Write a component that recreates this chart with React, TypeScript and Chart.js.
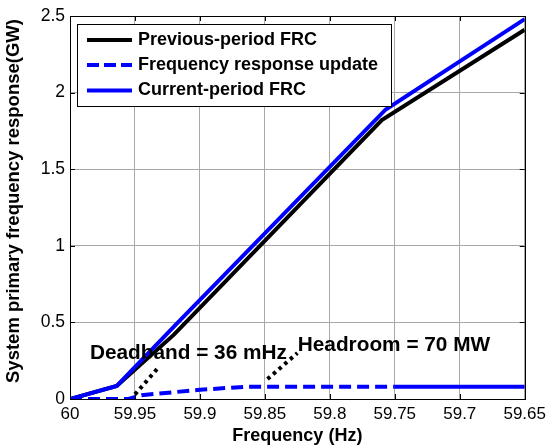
import React, { useEffect, useRef } from "react";
import { Chart, registerables } from "chart.js";
Chart.register(...registerables);

// ---- data ----
const prevFreq = [60, 59.964, 59.92, 59.76, 59.65];
const prevFRC = [0, 0.085, 0.42, 1.82, 2.41];
const currFreq = [60, 59.964, 59.918, 59.757, 59.65];
const currFRC = [0, 0.085, 0.49, 1.89, 2.48];
const updFreq = [60, 59.955, 59.945, 59.9, 59.865, 59.75, 59.65];
const updVals = [0, 0, 0.025, 0.06, 0.08, 0.08, 0.08];
const deadbandFreq = [59.95, 59.931];
const deadbandVals = [0.03, 0.215];
const headroomFreq = [59.848, 59.825];
const headroomVals = [0.13, 0.3];
const xTicks = [60, 59.95, 59.9, 59.85, 59.8, 59.75, 59.7, 59.65];
const yTicks = [0, 0.5, 1, 1.5, 2, 2.5];
const legendLabels = ["Previous-period FRC", "Frequency response update", "Current-period FRC"];
const annotationTexts = ["Deadband = 36 mHz", "Headroom = 70 MW"];
const annotationAnchors = [
  { x: 59.9847, y: 0.297 },
  { x: 59.8247, y: 0.349 },
];

const FONT = "'Liberation Sans', Arial, Helvetica, sans-serif";
const BLUE = "#0000ff";

const zip = (xs: number[], ys: number[]) => xs.map((x, i) => ({ x, y: ys[i] }));

const decorPlugin = {
  id: "decor",
  afterDraw(chart: any) {
    const { ctx, chartArea: a, scales } = chart;
    const xs = scales.x;
    const ys = scales.y;
    ctx.save();
    // axes box
    ctx.strokeStyle = "#000";
    ctx.lineWidth = 1;
    ctx.strokeRect(Math.round(a.left) + 0.5, Math.round(a.top) + 0.5, Math.round(a.right - a.left), Math.round(a.bottom - a.top));
    // inward tick marks
    const tl = 5;
    ctx.beginPath();
    xTicks.forEach((v) => {
      const px = Math.round(xs.getPixelForValue(v)) + 0.5;
      ctx.moveTo(px, a.bottom);
      ctx.lineTo(px, a.bottom - tl);
      ctx.moveTo(px, a.top);
      ctx.lineTo(px, a.top + tl);
    });
    yTicks.forEach((v) => {
      const py = Math.round(ys.getPixelForValue(v)) + 0.5;
      ctx.moveTo(a.left, py);
      ctx.lineTo(a.left + tl, py);
      ctx.moveTo(a.right, py);
      ctx.lineTo(a.right - tl, py);
    });
    ctx.stroke();

    // annotation texts
    ctx.fillStyle = "#000";
    ctx.font = `bold 20.8px ${FONT}`;
    ctx.textBaseline = "middle";
    ctx.textAlign = "left";
    annotationTexts.forEach((t, i) => {
      ctx.fillText(t, xs.getPixelForValue(annotationAnchors[i].x), ys.getPixelForValue(annotationAnchors[i].y));
    });

    // y-axis title
    ctx.save();
    ctx.translate(14, 201);
    ctx.rotate(-Math.PI / 2);
    ctx.textAlign = "center";
    ctx.font = `bold 18.5px ${FONT}`;
    ctx.fillText("System primary frequency response(GW)", 0, 0);
    ctx.restore();

    // legend
    const lx = 77.5, ly = 24.5, lw = 314, lh = 82;
    ctx.fillStyle = "#fff";
    ctx.fillRect(lx, ly, lw, lh);
    ctx.strokeStyle = "#000";
    ctx.lineWidth = 1;
    ctx.strokeRect(lx, ly, lw, lh);
    const rows = [40, 65, 90.5];
    const styles = [
      { color: "#000", dash: [] as number[] },
      { color: BLUE, dash: [12, 5] },
      { color: BLUE, dash: [] as number[] },
    ];
    legendLabels.forEach((lab, i) => {
      ctx.beginPath();
      ctx.strokeStyle = styles[i].color;
      ctx.lineWidth = 4;
      ctx.setLineDash(styles[i].dash);
      ctx.moveTo(87, rows[i]);
      ctx.lineTo(132, rows[i]);
      ctx.stroke();
      ctx.setLineDash([]);
      ctx.fillStyle = "#000";
      ctx.font = `bold 18px ${FONT}`;
      ctx.textAlign = "left";
      ctx.textBaseline = "middle";
      ctx.fillText(lab, 138, rows[i]);
    });
    ctx.restore();
  },
};

export default function App() {
  const ref = useRef<HTMLCanvasElement | null>(null);
  useEffect(() => {
    if (!ref.current) return;
    const chart = new Chart(ref.current, {
      type: "line",
      data: {
        datasets: [
          {
            label: "Deadband",
            data: zip(deadbandFreq, deadbandVals),
            borderColor: "#000",
            borderWidth: 4,
            borderDash: [3.5, 4],
            pointRadius: 0,
            clip: 0,
            order: 0,
          },
          {
            label: "Headroom",
            data: zip(headroomFreq, headroomVals),
            borderColor: "#000",
            borderWidth: 4,
            borderDash: [3.5, 4],
            pointRadius: 0,
            clip: 0,
            order: 0,
          },
          {
            label: legendLabels[2],
            data: zip(currFreq, currFRC),
            borderColor: BLUE,
            borderWidth: 4,
            pointRadius: 0,
            clip: 0,
            order: 1,
          },
          {
            label: legendLabels[1],
            data: zip(updFreq, updVals),
            borderColor: BLUE,
            borderWidth: 4,
            borderDash: [12, 6],
            pointRadius: 0,
            clip: 0,
            order: 2,
            segment: {
              borderDash: (c: any) => (c.p0.parsed.x <= 59.7501 ? [] : undefined),
            },
          },
          {
            label: legendLabels[0],
            data: zip(prevFreq, prevFRC),
            borderColor: "#000",
            borderWidth: 4,
            pointRadius: 0,
            clip: 0,
            order: 3,
          },
        ],
      },
      options: {
        responsive: false,
        animation: false,
        events: [],
        layout: { padding: { top: 16, right: 24, left: 0, bottom: 0 } },
        plugins: { legend: { display: false }, tooltip: { enabled: false }, title: { display: false } },
        scales: {
          x: {
            type: "linear",
            min: 59.65,
            max: 60,
            reverse: true,
            afterFit: (s: any) => {
              s.height = 48;
            },
            afterBuildTicks: (s: any) => {
              s.ticks = xTicks.map((v) => ({ value: v }));
            },
            grid: { color: "#a8a8a8", lineWidth: 1, drawTicks: false },
            border: { display: false },
            ticks: {
              padding: 5,
              color: "#000",
              font: { family: FONT, size: 17 },
              callback: (v: any) => String(parseFloat(Number(v).toFixed(2))),
              maxRotation: 0,
              autoSkip: false,
            },
            title: {
              display: true,
              text: "Frequency (Hz)",
              color: "#000",
              font: { family: FONT, size: 18, weight: "bold" },
              padding: { top: 0, bottom: 0 },
            },
          },
          y: {
            type: "linear",
            min: 0,
            max: 2.5,
            afterFit: (s: any) => {
              s.width = 70;
            },
            afterBuildTicks: (s: any) => {
              s.ticks = yTicks.map((v) => ({ value: v }));
            },
            grid: { color: "#a8a8a8", lineWidth: 1, drawTicks: false },
            border: { display: false },
            ticks: {
              padding: 5,
              color: "#000",
              font: { family: FONT, size: 17.5 },
              callback: (v: any) => String(parseFloat(Number(v).toFixed(2))),
              autoSkip: false,
            },
          },
        },
      },
      plugins: [decorPlugin],
    } as any);
    return () => chart.destroy();
  }, []);
  return (
    <div style={{ position: "absolute", left: 0, top: 0, width: 551, height: 447, background: "#fff" }}>
      <canvas ref={ref} width={551} height={447} style={{ display: "block" }} />
    </div>
  );
}
